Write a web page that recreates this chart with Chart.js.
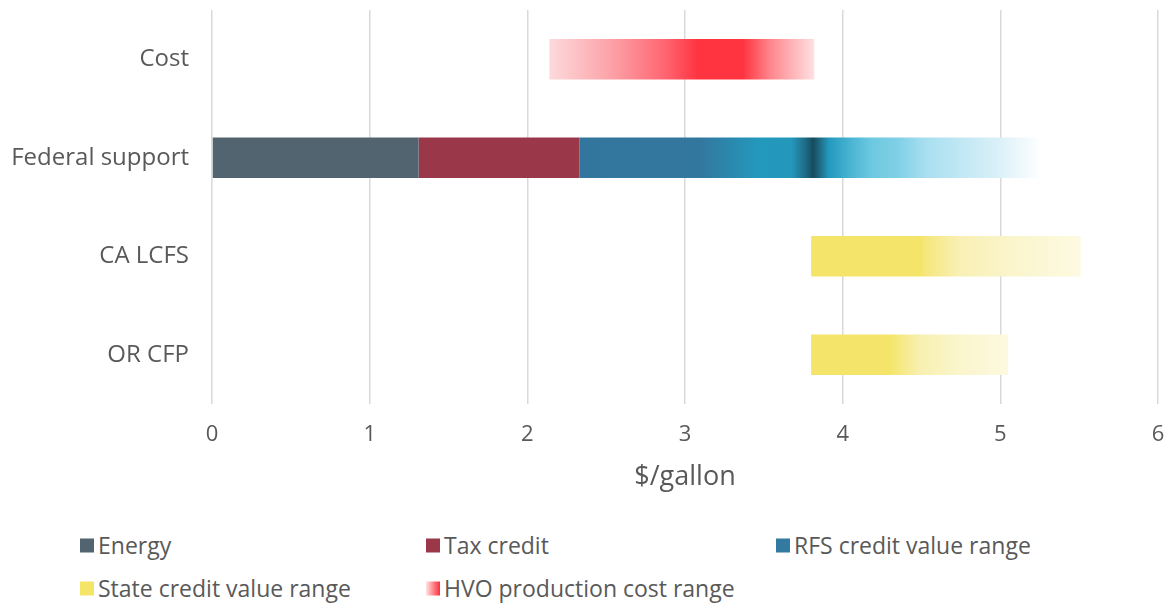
<!DOCTYPE html>
<html>
<head>
<meta charset="utf-8">
<script src="https://cdn.jsdelivr.net/npm/chart.js@4.4.0/dist/chart.umd.min.js"></script>
<style>
    body { margin: 0; background: #fff; font-family: 'Open Sans', sans-serif; }
    #wrap { position: relative; width: 1167px; height: 604px; overflow: hidden; }
    #chartBox { position: absolute; left: 0; top: 0; width: 1167px; height: 500px; }
    .legend-item { position: absolute; font-size: 23px; color: #595959; display: flex; align-items: center; line-height: 1; white-space: nowrap; transform: translateY(-50%); }
    .legend-item .sw { width: 14px; height: 14px; margin-right: 4px; }
</style>
</head>
<body>
<div id="wrap">
    <div id="chartBox"><canvas id="fuelChart"></canvas></div>
    <div id="legend"></div>
</div>
<script>
// Categories and values ($/gallon), each bar is a [start, end] range
const categories = ['Cost', 'Federal support', 'CA LCFS', 'OR CFP'];
const energy = [null, [0, 1.31], null, null];
const taxCredit = [null, [1.31, 2.33], null, null];
const rfsRange = [null, [2.33, 5.26], null, null];
const stateRange = [null, null, [3.8, 5.51], [3.8, 5.05]];
const hvoCostRange = [[2.14, 3.82], null, null, null];
const xTicks = [0, 1, 2, 3, 4, 5, 6];

// gradient stops, per bar (index = category)
const rfsStops = {
    1: [[0, '#33769d'], [0.26, '#33779e'], [0.39, '#2399bd'], [0.46, '#2497ba'], [0.49, '#1f6a84'],
        [0.506, '#174b5e'], [0.52, '#1f6a84'], [0.54, '#2399bd'], [0.58, '#44b0d0'], [0.63, '#6cc8e0'],
        [0.69, '#80d0e6'], [0.75, '#a8dff0'], [0.9, '#d8eff8'], [1, '#ffffff']]
};
const stateStops = {
    2: [[0, '#f4e56a'], [0.41, '#f4e56a'], [0.42, '#f5e67a'], [0.55, '#f8f0b4'], [0.75, '#faf5cc'], [1, '#fdfae2']],
    3: [[0, '#f4e56a'], [0.40, '#f4e56a'], [0.55, '#f8f0b0'], [0.75, '#faf5cc'], [1, '#fdf9e0']]
};
const hvoStops = {
    0: [[0, '#fddadc'], [0.24, '#fca0a6'], [0.44, '#ff6470'], [0.56, '#ff3440'], [0.73, '#ff3440'],
        [0.84, '#ff8a90'], [1, '#fee0e2']]
};

function gradientFill(stopsByIndex, fallback) {
    return function (ctx) {
        const chart = ctx.chart;
        const raw = ctx.raw;
        const stops = stopsByIndex[ctx.dataIndex];
        if (!chart.chartArea || !raw || !stops) return fallback;
        const xScale = chart.scales.x;
        const x0 = xScale.getPixelForValue(raw[0]);
        const x1 = xScale.getPixelForValue(raw[1]);
        const g = chart.ctx.createLinearGradient(x0, 0, x1, 0);
        stops.forEach(s => g.addColorStop(s[0], s[1]));
        return g;
    };
}

const legendItems = [
    { label: 'Energy', swatch: '#51646f', left: 80, top: 545 },
    { label: 'Tax credit', swatch: '#9a3849', left: 426, top: 545 },
    { label: 'RFS credit value range', swatch: '#337aa0', left: 776, top: 545 },
    { label: 'State credit value range', swatch: '#f4e566', left: 80, top: 588 },
    { label: 'HVO production cost range', swatch: 'linear-gradient(to right, #ffe4e6, #ff2d3a)', left: 426, top: 588 }
];

const fontFamily = "'Open Sans', sans-serif";

new Chart(document.getElementById('fuelChart'), {
    type: 'bar',
    data: {
        labels: categories,
        datasets: [
            { label: 'Energy', data: energy, backgroundColor: '#51646f' },
            { label: 'Tax credit', data: taxCredit, backgroundColor: '#9a3849' },
            { label: 'RFS credit value range', data: rfsRange, backgroundColor: gradientFill(rfsStops, '#337aa0') },
            { label: 'State credit value range', data: stateRange, backgroundColor: gradientFill(stateStops, '#f4e566') },
            { label: 'HVO production cost range', data: hvoCostRange, backgroundColor: gradientFill(hvoStops, '#ff3440') }
        ]
    },
    options: {
        indexAxis: 'y',
        responsive: true,
        maintainAspectRatio: false,
        animation: false,
        layout: { padding: { left: 0, right: 9, top: 10, bottom: 0 } },
        datasets: {
            bar: { grouped: false, categoryPercentage: 1, barPercentage: 0.41, borderWidth: 0 }
        },
        plugins: {
            legend: { display: false },
            tooltip: { enabled: false }
        },
        scales: {
            x: {
                min: 0,
                max: 6,
                afterBuildTicks: function (scale) {
                    scale.ticks = xTicks.map(v => ({ value: v }));
                },
                afterFit: function (scale) {
                    scale.height = 96;
                    scale.paddingLeft = 0;
                    scale.paddingRight = 0;
                },
                grid: { color: '#d9d9d9', lineWidth: 1.5, drawTicks: false },
                border: { display: false },
                ticks: { color: '#595959', font: { family: fontFamily, size: 22 }, padding: 18 },
                title: {
                    display: true,
                    text: '$/gallon',
                    color: '#595959',
                    font: { family: fontFamily, size: 27 },
                    padding: { top: 4, bottom: 6 }
                }
            },
            y: {
                afterFit: function (scale) {
                    scale.width = 212;
                    scale.paddingTop = 0;
                    scale.paddingBottom = 0;
                },
                grid: { display: false, drawTicks: false },
                border: { display: false },
                ticks: { color: '#595959', font: { family: fontFamily, size: 24 }, padding: 23 }
            }
        }
    }
});

// HTML legend laid out in fixed columns like the original
const legendEl = document.getElementById('legend');
legendItems.forEach(item => {
    const div = document.createElement('div');
    div.className = 'legend-item';
    div.style.left = item.left + 'px';
    div.style.top = item.top + 'px';
    const sw = document.createElement('span');
    sw.className = 'sw';
    sw.style.background = item.swatch;
    const txt = document.createElement('span');
    txt.textContent = item.label;
    div.appendChild(sw);
    div.appendChild(txt);
    legendEl.appendChild(div);
});
</script>
</body>
</html>
